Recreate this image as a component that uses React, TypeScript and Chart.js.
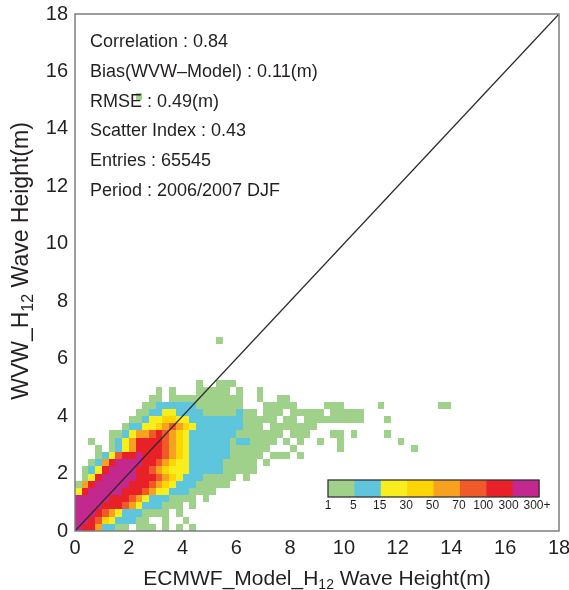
import { useEffect, useRef } from 'react';
import { Chart, registerables } from 'chart.js';

Chart.register(...registerables);

// ---------- data ----------
const AXIS_MIN = 0;
const AXIS_MAX = 18;
const TICK_STEP = 2;
const binSize = 0.25; // metres per histogram bin

// Count-class of each 0.25 m x 0.25 m bin: one string per WVW bin (row 0 = 0-0.25 m),
// one character per model bin (column 0 = 0-0.25 m). '.' = empty, 1..8 = class index.
const densityRows = [
  '87752211.111.1.1.1',
  '88764322211..1..1',
  '88876532221111.1',
  '8888777653222111.1',
  '888887776532221111.1',
  '378888877765332221111',
  '15788888777654322211111',
  '.13788888777654322211111.1',
  '.12378888776543332222211111',
  '..1257888877654332222211111.1',
  '...1236778777654322222211111.111.1',
  '...1.123577776543222222111111...1......1..........1',
  '..1..1235777765432222221221111.1.1..1..1........1',
  '.....11235567654322222221111111.111...11.1....1',
  '.......122334565432222222111.1111111',
  '........1123344332222222211111.11.111111111...1',
  '.........112233222211111211.111.11111.11111',
  '..........112222221111111...11111....111.....1........11',
  '...........11.11111111111..1..11',
  '............1.1...11111.1..1',
  '..................1..111',
  '',
  '',
  '',
  '',
  '',
  '.....................1',
];

// isolated bins far from the main cloud: [column, row, class]
const sparseCells = [[9, 60, 1]];

const levelColors = ['#a0d18b', '#5dc6dd', '#f8ee1e', '#fdd404', '#f7a21e', '#f05a29', '#e82027', '#c3288f'];
const levelLabels = ['1', '5', '15', '30', '50', '70', '100', '300', '300+'];

const statsLines = [
  'Correlation : 0.84',
  'Bias(WVW\u2013Model) : 0.11(m)',
  'RMSE : 0.49(m)',
  'Scatter Index : 0.43',
  'Entries : 65545',
  'Period : 2006/2007 DJF',
];

const diagonal = [
  { x: 0, y: 0 },
  { x: 18, y: 18 },
];

const xTitle = ['ECMWF_Model_H', '12', ' Wave Height(m)'];
const yTitle = ['WVW_H', '12', ' Wave Height(m)'];

// ---------- drawing helpers ----------
const FONT = '"Liberation Sans", Arial, Helvetica, sans-serif';

function drawSubscriptText(ctx: CanvasRenderingContext2D, parts: string[], size: number) {
  const subSize = Math.round(size * 0.68);
  ctx.font = `${size}px ${FONT}`;
  const w0 = ctx.measureText(parts[0]).width;
  const w2 = ctx.measureText(parts[2]).width;
  ctx.font = `${subSize}px ${FONT}`;
  const w1 = ctx.measureText(parts[1]).width;
  let x = -(w0 + w1 + w2) / 2;
  ctx.textAlign = 'left';
  ctx.textBaseline = 'alphabetic';
  const base = size * 0.36;
  ctx.font = `${size}px ${FONT}`;
  ctx.fillText(parts[0], x, base);
  x += w0;
  ctx.font = `${subSize}px ${FONT}`;
  ctx.fillText(parts[1], x, base + size * 0.22);
  x += w1;
  ctx.font = `${size}px ${FONT}`;
  ctx.fillText(parts[2], x, base);
}

const heatmapPlugin = {
  id: 'heatmap',
  beforeDatasetsDraw(chart: any) {
    const { ctx, chartArea, scales } = chart;
    const xs = scales.x;
    const ys = scales.y;
    ctx.save();
    ctx.beginPath();
    ctx.rect(chartArea.left, chartArea.top, chartArea.right - chartArea.left, chartArea.bottom - chartArea.top);
    ctx.clip();
    const drawCell = (c: number, r: number, lvl: number) => {
      const x0 = Math.round(xs.getPixelForValue(c * binSize));
      const x1 = Math.round(xs.getPixelForValue((c + 1) * binSize));
      const y0 = Math.round(ys.getPixelForValue((r + 1) * binSize));
      const y1 = Math.round(ys.getPixelForValue(r * binSize));
      ctx.fillStyle = levelColors[lvl - 1];
      ctx.fillRect(x0, y0, x1 - x0, y1 - y0);
    };
    densityRows.forEach((row, r) => {
      for (let c = 0; c < row.length; c++) {
        const ch = row[c];
        if (ch !== '.') drawCell(c, r, Number(ch));
      }
    });
    sparseCells.forEach(([c, r, l]) => drawCell(c, r, l));
    ctx.restore();
  },
};

const labelShift = [0, -1, -1, -1, -1, -1, -3, -4, -2];

const decorPlugin = {
  id: 'decor',
  afterDatasetsDraw(chart: any) {
    const { ctx, chartArea } = chart;
    const { left, right, top, bottom } = chartArea;
    ctx.save();
    // frame
    ctx.strokeStyle = '#7d7d7d';
    ctx.lineWidth = 1.5;
    ctx.strokeRect(left, top, right - left, bottom - top);

    // statistics text
    ctx.fillStyle = '#231f20';
    ctx.font = `18px ${FONT}`;
    ctx.textAlign = 'left';
    ctx.textBaseline = 'middle';
    statsLines.forEach((t, i) => {
      ctx.fillText(t, left + 15, top + 28 + i * 29.8);
    });

    // colour bar
    const cbLeft = left + 253;
    const cbRight = right - 20;
    const cbBottom = bottom - 34;
    const cbTop = cbBottom - 17;
    const segW = (cbRight - cbLeft) / levelColors.length;
    levelColors.forEach((col, i) => {
      ctx.fillStyle = col;
      ctx.fillRect(cbLeft + i * segW, cbTop, segW + 0.5, cbBottom - cbTop);
    });
    ctx.strokeStyle = '#333';
    ctx.lineWidth = 1.3;
    ctx.strokeRect(cbLeft, cbTop, cbRight - cbLeft, cbBottom - cbTop);
    ctx.fillStyle = '#231f20';
    ctx.font = `12px ${FONT}`;
    ctx.textAlign = 'center';
    ctx.textBaseline = 'middle';
    levelLabels.forEach((lab, i) => {
      ctx.fillText(lab, cbLeft + i * segW + labelShift[i], cbBottom + 9);
    });

    // axis titles
    ctx.fillStyle = '#231f20';
    ctx.save();
    ctx.translate((left + right) / 2, 577);
    drawSubscriptText(ctx, xTitle, 21);
    ctx.restore();
    ctx.save();
    ctx.translate(20, 261);
    ctx.rotate(-Math.PI / 2);
    drawSubscriptText(ctx, yTitle, 23);
    ctx.restore();
    ctx.restore();
  },
};

export default function App() {
  const ref = useRef<HTMLCanvasElement>(null);
  useEffect(() => {
    if (!ref.current) return;
    const tickFont = { family: FONT, size: 20 };
    const chart = new Chart(ref.current, {
      type: 'scatter',
      data: {
        datasets: [
          {
            data: diagonal,
            showLine: true,
            borderColor: '#2b2b2b',
            borderWidth: 1.3,
            pointRadius: 0,
            fill: false,
          },
        ],
      },
      options: {
        animation: false,
        responsive: false,
        layout: { padding: { top: 14, right: 10, left: 0, bottom: 0 } },
        plugins: { legend: { display: false }, tooltip: { enabled: false } },
        scales: {
          x: {
            type: 'linear',
            min: AXIS_MIN,
            max: AXIS_MAX,
            ticks: { stepSize: TICK_STEP, font: tickFont, color: '#231f20', padding: 5, maxRotation: 0 },
            grid: { display: false, drawTicks: false },
            border: { display: false },
            afterFit: (s: any) => {
              s.height = 59;
              s.paddingLeft = 0;
              s.paddingRight = 0;
            },
          },
          y: {
            type: 'linear',
            min: AXIS_MIN,
            max: AXIS_MAX,
            ticks: { stepSize: TICK_STEP, font: tickFont, color: '#231f20', padding: 7 },
            grid: { display: false, drawTicks: false },
            border: { display: false },
            afterFit: (s: any) => {
              s.width = 75;
              s.paddingTop = 0;
              s.paddingBottom = 0;
            },
          },
        },
      },
      plugins: [heatmapPlugin, decorPlugin],
    } as any);
    return () => chart.destroy();
  }, []);
  return (
    <div style={{ position: 'absolute', left: 0, top: 0, width: 569, height: 590, background: '#fff' }}>
      <canvas ref={ref} width={569} height={590} style={{ width: 569, height: 590, display: 'block' }} />
    </div>
  );
}
